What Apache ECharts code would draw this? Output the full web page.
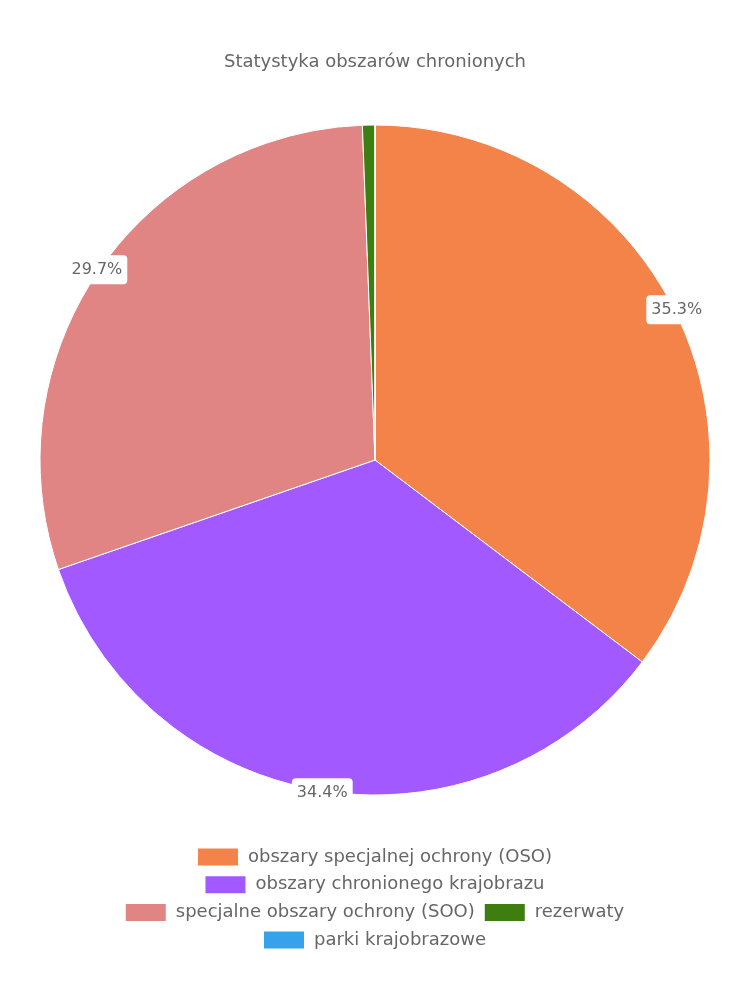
<!DOCTYPE html>
<html>
<head>
<meta charset="utf-8">
<script src="https://cdn.jsdelivr.net/npm/echarts@6/dist/echarts.min.js"></script>
<style>
    html, body { margin: 0; padding: 0; background: #fff; }
    #chart { width: 750px; height: 1000px; }
</style>
</head>
<body>
<div id="chart"></div>
<script>
const titleText = 'Statystyka obszarów chronionych'

const categories = [
    'obszary specjalnej ochrony (OSO)',
    'obszary chronionego krajobrazu',
    'specjalne obszary ochrony (SOO)',
    'rezerwaty',
    'parki krajobrazowe'
]

// udział procentowy
const shares = [35.3, 34.4, 29.7, 0.6, 0.0]

const colors = ['#f4834a', '#a259ff', '#e08484', '#3e7e10', '#36a2eb']

// wiersze legendy (każdy wyśrodkowany osobno)
const legendRows = [
    ['obszary specjalnej ochrony (OSO)'],
    ['obszary chronionego krajobrazu'],
    ['specjalne obszary ochrony (SOO)', 'rezerwaty'],
    ['parki krajobrazowe']
]

const fontFamily = '"DejaVu Sans", sans-serif'
const center = [375, 460]
const radius = 335

const chart = echarts.init(document.getElementById('chart'))

const pieData = categories.map((name, i) => ({
    name,
    value: shares[i],
    itemStyle: { color: colors[i] }
}))

// niewidoczny pierścień tylko po to, żeby etykiety były przy krawędzi
const labelData = categories.map((name, i) => ({
    name,
    value: shares[i],
    label: { show: shares[i] >= 5 }
}))

const legends = legendRows.map((row, i) => ({
    data: row,
    left: 'center',
    top: 843 + i * 27.7,
    itemWidth: 40,
    itemHeight: 17,
    itemGap: 10,
    icon: 'rect',
    selectedMode: false,
    itemStyle: { borderWidth: 0 },
    textStyle: {
        color: '#666',
        fontSize: 18,
        fontFamily,
        padding: [0, 0, 0, 5]
    }
}))

const option = {
    animation: false,
    title: {
        text: titleText,
        left: 'center',
        top: 48,
        textStyle: {
            color: '#666',
            fontSize: 18,
            fontWeight: 'normal',
            fontFamily
        }
    },
    legend: legends,
    series: [
        {
            name: 'obszary',
            type: 'pie',
            center,
            radius: [0, radius],
            startAngle: 90,
            clockwise: true,
            data: pieData,
            label: { show: false },
            labelLine: { show: false },
            itemStyle: {
                borderColor: '#fff',
                borderWidth: 1
            }
        },
        {
            name: 'etykiety',
            type: 'pie',
            center,
            radius: [radius - 13, radius + 11],
            startAngle: 90,
            clockwise: true,
            silent: true,
            data: labelData,
            itemStyle: { color: 'rgba(0,0,0,0)', borderWidth: 0 },
            labelLine: { show: false },
            label: {
                position: 'inside',
                color: '#666',
                fontSize: 16,
                fontFamily,
                backgroundColor: '#fff',
                borderRadius: 4,
                padding: [7, 5, 6, 5],
                formatter: p => p.value.toFixed(1) + '%'
            },
            emphasis: { disabled: true }
        }
    ]
}

chart.setOption(option)
</script>
</body>
</html>
